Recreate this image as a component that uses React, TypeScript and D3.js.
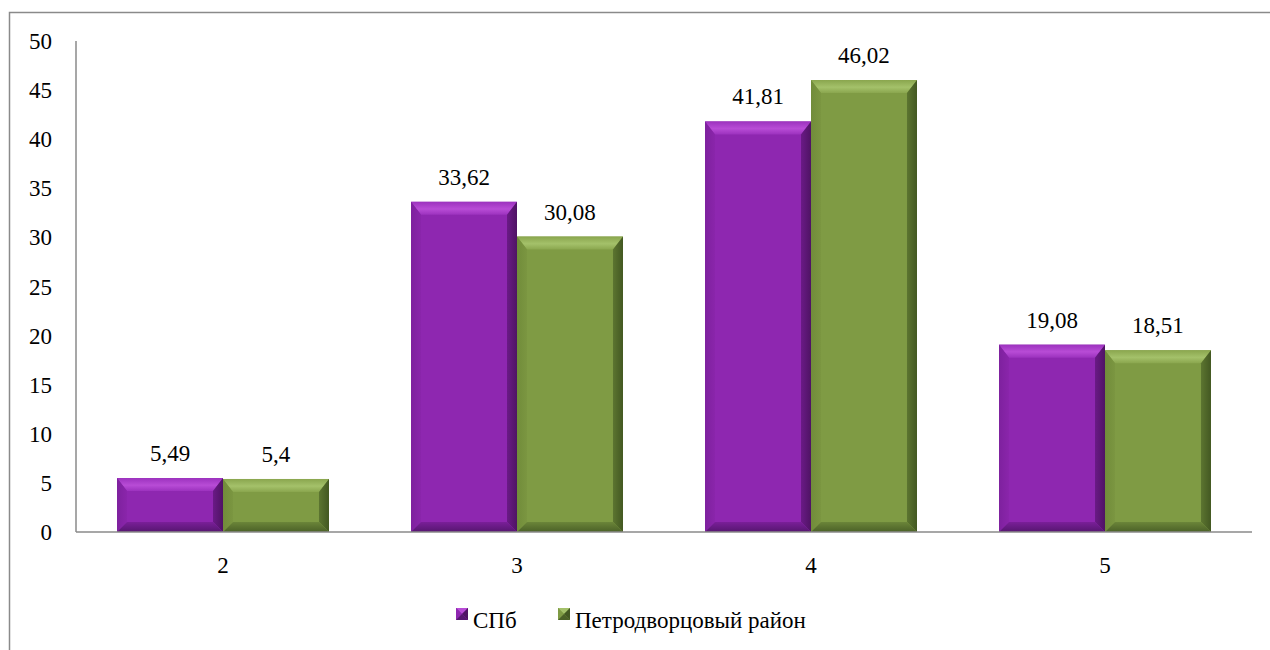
import React from "react";
import * as d3 from "d3";

const categories = ["2", "3", "4", "5"];
const seriesNames = ["СПб", "Петродворцовый район"];
const spbValues = [5.49, 33.62, 41.81, 19.08];
const petrodvortsValues = [5.4, 30.08, 46.02, 18.51];
const yTicks = [0, 5, 10, 15, 20, 25, 30, 35, 40, 45, 50];

const palettes = [
  { main: "#8E27B0", top: "#B84CD6", topIn: "#9C32BE", left: "#7E219E", leftIn: "#8A25AB", right: "#4F1364", rightIn: "#6A1A86", bottom: "#561670", bottomIn: "#7A1F99" },
  { main: "#7F9B44", top: "#A4C16A", topIn: "#8AA64E", left: "#718C3A", leftIn: "#7B9641", right: "#435822", rightIn: "#5C7530", bottom: "#4B6127", bottomIn: "#6B8539" },
];

const FONT = "'Liberation Serif', Tinos, 'Times New Roman', 'DejaVu Serif', serif";

function Bar({ x, y, w, h, p, id }: { x: number; y: number; w: number; h: number; p: any; id: string }) {
  const b = Math.min(10, h / 2.5, w / 4);
  const bt = Math.min(13, h / 2.5);
  const x0 = x, x1 = x + w, y0 = y, y1 = y + h;
  return (
    <g>
      <defs>
        <linearGradient id={id + "t"} x1="0" y1="0" x2="0" y2="1">
          <stop offset="0" stopColor={p.topIn} />
          <stop offset="0.55" stopColor={p.top} />
          <stop offset="1" stopColor={p.topIn} />
        </linearGradient>
        <linearGradient id={id + "r"} x1="0" y1="0" x2="1" y2="0">
          <stop offset="0" stopColor={p.rightIn} />
          <stop offset="1" stopColor={p.right} />
        </linearGradient>
        <linearGradient id={id + "b"} x1="0" y1="0" x2="0" y2="1">
          <stop offset="0" stopColor={p.bottomIn} />
          <stop offset="1" stopColor={p.bottom} />
        </linearGradient>
        <linearGradient id={id + "l"} x1="0" y1="0" x2="1" y2="0">
          <stop offset="0" stopColor={p.left} />
          <stop offset="1" stopColor={p.leftIn} />
        </linearGradient>
      </defs>
      <rect x={x0} y={y0} width={w} height={h} fill={p.main} />
      <path d={`M${x0},${y0}H${x1}L${x1 - b},${y0 + bt}H${x0 + b}Z`} fill={`url(#${id}t)`} />
      <path d={`M${x0},${y0}L${x0 + b},${y0 + bt}V${y1 - b}L${x0},${y1}Z`} fill={`url(#${id}l)`} />
      <path d={`M${x1},${y0}L${x1 - b},${y0 + bt}V${y1 - b}L${x1},${y1}Z`} fill={`url(#${id}r)`} />
      <path d={`M${x0},${y1}L${x0 + b},${y1 - b}H${x1 - b}L${x1},${y1}Z`} fill={`url(#${id}b)`} />
    </g>
  );
}

function Marker({ x, y, s, p }: { x: number; y: number; s: number; p: any }) {
  const c = s / 2;
  return (
    <g>
      <rect x={x} y={y} width={s} height={s} fill={p.main} />
      <path d={`M${x},${y}H${x + s}L${x + c},${y + c}Z`} fill={p.top} />
      <path d={`M${x},${y}V${y + s}L${x + c},${y + c}Z`} fill={p.main} />
      <path d={`M${x + s},${y}V${y + s}L${x + c},${y + c}Z`} fill={p.right} />
      <path d={`M${x},${y + s}H${x + s}L${x + c},${y + c}Z`} fill={p.bottom} />
    </g>
  );
}

export default function App() {
  const W = 1270, H = 650;
  const left = 76, right = 1252, top = 41, bottom = 532;
  const y = d3.scaleLinear().domain([0, 50]).range([bottom, top]);
  const pad = 0.279;
  const x = d3.scaleBand<string>().domain(categories).range([left, right]).paddingInner(pad).paddingOuter(pad / 2);
  const xi = d3.scaleBand<string>().domain(seriesNames).range([0, x.bandwidth()]).padding(0);
  const series = [spbValues, petrodvortsValues];
  const fmt = (v: number) => String(v).replace(".", ",");
  const ts = { fontFamily: FONT, fontSize: 23 } as React.CSSProperties;

  return (
    <svg width={W} height={H} style={{ position: "absolute", left: 0, top: 0, display: "block" }}>
      <rect x={0} y={0} width={W} height={H} fill="#fff" />
      <path d={`M9.5,${H}V12.5H${W}`} fill="none" stroke="#8a8a8a" strokeWidth={1.5} />
      <line x1={left} x2={left} y1={top} y2={bottom} stroke="#8a8a8a" strokeWidth={1.5} />
      {yTicks.map((t) => (
        <text key={t} x={52} y={y(t)} dy="0.35em" textAnchor="end" style={ts} fill="#000">
          {t}
        </text>
      ))}
      {categories.map((c, ci) =>
        series.map((vals, si) => {
          const bx = (x(c) as number) + (xi(seriesNames[si]) as number);
          const bw = xi.bandwidth();
          const by = y(vals[ci]);
          return (
            <g key={c + si}>
              <Bar x={bx} y={by} w={bw} h={bottom - by} p={palettes[si]} id={`g${ci}_${si}`} />
              <text x={bx + bw / 2} y={by - 17} textAnchor="middle" style={ts} fill="#000">
                {fmt(vals[ci])}
              </text>
            </g>
          );
        })
      )}
      <line x1={left} x2={right} y1={bottom} y2={bottom} stroke="#8a8a8a" strokeWidth={1.5} />
      {categories.map((c) => (
        <text key={c} x={(x(c) as number) + x.bandwidth() / 2} y={573} textAnchor="middle" style={ts} fill="#000">
          {c}
        </text>
      ))}
      <Marker x={456} y={608} s={12} p={palettes[0]} />
      <text x={473} y={628} style={ts} fill="#000">{seriesNames[0]}</text>
      <Marker x={558} y={608} s={12} p={palettes[1]} />
      <text x={575} y={628} style={ts} fill="#000">{seriesNames[1]}</text>
    </svg>
  );
}
